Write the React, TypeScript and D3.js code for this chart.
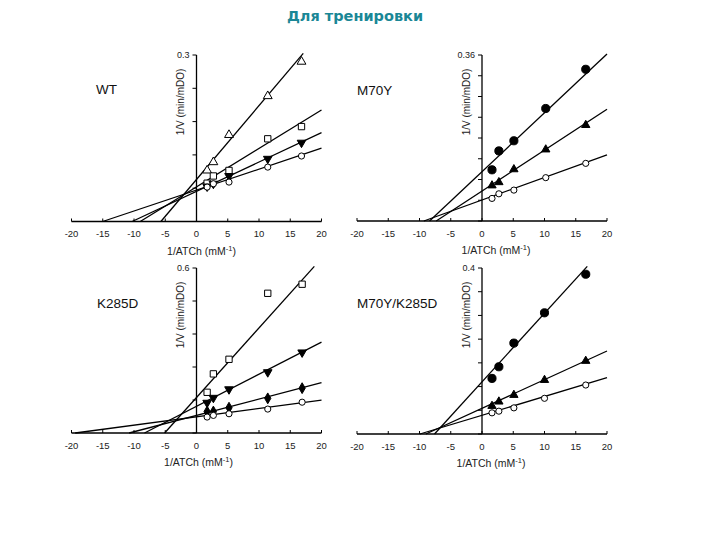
import React from "react";
import * as d3 from "d3";

// ---------- data ----------
const xTicks = [-20, -15, -10, -5, 0, 5, 10, 15, 20];
const panelNames = ["WT", "M70Y", "K285D", "M70Y/K285D"];
const yMaxLabels = ["0.3", "0.36", "0.6", "0.4"];
const yMax = [0.3, 0.36, 0.6, 0.4];
const yTickCounts = [5, 8, 5, 7];

// WT
const wtX = [1.7, 2.7, 5.2, 11.4, 16.8];
const wtTri = [0.092, 0.107, 0.156, 0.226, 0.288];
const wtSquare = [0.069, 0.082, 0.092, 0.149, 0.171];
const wtDown = [0.063, 0.068, 0.082, 0.113, 0.142];
const wtCircle = [0.062, 0.068, 0.071, 0.098, 0.118];
const wtSlope = [0.0133, 0.00693, 0.00528, 0.00377];
const wtIntercept = [0.0758, 0.0624, 0.0544, 0.0566];

// M70Y
const m70X = [1.6, 2.7, 5.1, 10.2, 16.6];
const m70Dot = [0.111, 0.152, 0.174, 0.244, 0.329];
const m70Tri = [0.077, 0.084, 0.112, 0.155, 0.208];
const m70Circle = [0.049, 0.059, 0.067, 0.094, 0.125];
const m70Slope = [0.01275, 0.00887, 0.0049];
const m70Intercept = [0.107, 0.065, 0.0456];

// K285D
const kX = [1.7, 2.7, 5.2, 11.4, 16.9];
const kSquare = [0.148, 0.215, 0.268, 0.508, 0.541];
const kDown = [0.11, 0.128, 0.159, 0.221, 0.293];
const kDiamond = [0.078, 0.078, 0.092, 0.126, 0.163];
const kCircle = [0.058, 0.064, 0.07, 0.087, 0.112];
const kSlope = [0.0253, 0.01166, 0.00594, 0.00304];
const kIntercept = [0.129, 0.097, 0.064, 0.059];

// M70Y/K285D
const mkX = [1.6, 2.7, 5.1, 10.0, 16.6];
const mkDot = [0.134, 0.162, 0.219, 0.292, 0.385];
const mkTri = [0.0675, 0.078, 0.094, 0.13, 0.176];
const mkCircle = [0.051, 0.055, 0.063, 0.086, 0.118];
const mkSlope = [0.01653, 0.0069, 0.00453];
const mkIntercept = [0.1256, 0.062, 0.045];

type Marker = "triOpen" | "squareOpen" | "downFilled" | "circleOpen" | "circleFilled" | "triFilled" | "diamondFilled";

const panelSeries: { x: number[]; ys: number[][]; markers: Marker[]; slope: number[]; intercept: number[] }[] = [
  { x: wtX, ys: [wtTri, wtSquare, wtDown, wtCircle], markers: ["triOpen", "squareOpen", "downFilled", "circleOpen"], slope: wtSlope, intercept: wtIntercept },
  { x: m70X, ys: [m70Dot, m70Tri, m70Circle], markers: ["circleFilled", "triFilled", "circleOpen"], slope: m70Slope, intercept: m70Intercept },
  { x: kX, ys: [kSquare, kDown, kDiamond, kCircle], markers: ["squareOpen", "downFilled", "diamondFilled", "circleOpen"], slope: kSlope, intercept: kIntercept },
  { x: mkX, ys: [mkDot, mkTri, mkCircle], markers: ["circleFilled", "triFilled", "circleOpen"], slope: mkSlope, intercept: mkIntercept },
];

// ---------- layout ----------
const layout = [
  { left: 71.5, right: 321.5, top: 55, bottom: 221.5, labelX: 96, labelY: 94, xlabDx: 5 },
  { left: 357, right: 607, top: 55, bottom: 221, labelX: 357, labelY: 95, xlabDx: 14 },
  { left: 71.5, right: 321.5, top: 268, bottom: 433, labelX: 97, labelY: 308, xlabDx: 2 },
  { left: 357, right: 607, top: 268, bottom: 434, labelX: 357, labelY: 308, xlabDx: 9 },
];

const FONT = "'Liberation Sans', Arial, Helvetica, sans-serif";

function markerPath(m: Marker): { d: string; fill: string; rotate: number } {
  const sym = d3.symbol();
  switch (m) {
    case "triOpen":
      return { d: sym.type(d3.symbolTriangle).size(34)() as string, fill: "white", rotate: 0 };
    case "triFilled":
      return { d: sym.type(d3.symbolTriangle).size(30)() as string, fill: "black", rotate: 0 };
    case "downFilled":
      return { d: sym.type(d3.symbolTriangle).size(32)() as string, fill: "black", rotate: 180 };
    case "squareOpen":
      return { d: sym.type(d3.symbolSquare).size(40)() as string, fill: "white", rotate: 0 };
    case "circleOpen":
      return { d: sym.type(d3.symbolCircle).size(30)() as string, fill: "white", rotate: 0 };
    case "circleFilled":
      return { d: sym.type(d3.symbolCircle).size(52)() as string, fill: "black", rotate: 0 };
    case "diamondFilled":
      return { d: sym.type(d3.symbolDiamond).size(34)() as string, fill: "black", rotate: 0 };
  }
}

function Panel({ i }: { i: number }) {
  const L = layout[i];
  const S = panelSeries[i];
  const ymax = yMax[i];
  const x = d3.scaleLinear().domain([-20, 20]).range([L.left, L.right]);
  const y = d3.scaleLinear().domain([0, ymax]).range([L.bottom, L.top]);
  const x0 = x(0);
  const yTicks = d3.range(0, yTickCounts[i] + 1).map((k) => (k * ymax) / yTickCounts[i]);
  const lineGen = d3.line<[number, number]>().x((d) => x(d[0])).y((d) => y(d[1]));

  return (
    <g>
      {/* fitted lines */}
      {S.slope.map((m, k) => {
        const b = S.intercept[k];
        const xs = -b / m;
        const xe = Math.min(20, (ymax * 1.01 - b) / m);
        return (
          <path key={"l" + k} d={lineGen([[xs, 0], [xe, b + m * xe]]) as string} stroke="black" strokeWidth={1.3} fill="none" />
        );
      })}
      {/* axes */}
      <line x1={x(-20)} x2={x(20)} y1={y(0)} y2={y(0)} stroke="black" strokeWidth={1.3} />
      <line x1={x0} x2={x0} y1={y(0)} y2={y(ymax)} stroke="black" strokeWidth={1.3} />
      {xTicks.map((t) => (
        <g key={"xt" + t}>
          <line x1={x(t)} x2={x(t)} y1={y(0)} y2={y(0) - 3} stroke="black" strokeWidth={1} />
          <text x={x(t)} y={y(0) + 15.5} fontSize={9.5} fontFamily={FONT} textAnchor="middle" fill="#222">
            {t}
          </text>
        </g>
      ))}
      {yTicks.map((t, k) => (
        <line key={"yt" + k} x1={x0 - 4} x2={x0} y1={y(t)} y2={y(t)} stroke="black" strokeWidth={1} />
      ))}
      <text x={x0 - 7} y={y(ymax) + 3} fontSize={9} fontFamily={FONT} textAnchor="end" fill="#222">
        {yMaxLabels[i]}
      </text>
      <text
        transform={`translate(${x0 - 12.5},${L.top + 47}) rotate(-90)`}
        fontSize={10}
        fontFamily={FONT}
        textAnchor="middle"
        fill="#222"
      >
        1/V (min/mDO)
      </text>
      <text x={x0 + L.xlabDx} y={y(0) + 33} fontSize={10.5} fontFamily={FONT} textAnchor="middle" fill="#222">
        1/ATCh (mM
        <tspan dy={-4} fontSize={7.5}>-1</tspan>
        <tspan dy={4}>)</tspan>
      </text>
      <text x={L.labelX} y={L.labelY} fontSize={13.5} fontFamily={FONT} fill="#111">
        {panelNames[i]}
      </text>
      {/* points */}
      {S.ys.map((vals, k) => {
        const mk = markerPath(S.markers[k]);
        return vals.map((v, j) => (
          <path
            key={"p" + k + "-" + j}
            d={mk.d}
            transform={`translate(${x(S.x[j])},${y(v)}) rotate(${mk.rotate})`}
            fill={mk.fill}
            stroke="black"
            strokeWidth={1}
          />
        ));
      })}
    </g>
  );
}

export default function App() {
  return (
    <svg width={720} height={540} style={{ position: "absolute", left: 0, top: 0, background: "white" }}>
      <rect x={0} y={0} width={720} height={540} fill="white" />
      <text x={355} y={21} fontSize={14.5} fontWeight="bold" fontFamily="'DejaVu Sans', Verdana, sans-serif" textAnchor="middle" fill="#1a8796">
        Для тренировки
      </text>
      {[0, 1, 2, 3].map((i) => (
        <Panel key={i} i={i} />
      ))}
    </svg>
  );
}
